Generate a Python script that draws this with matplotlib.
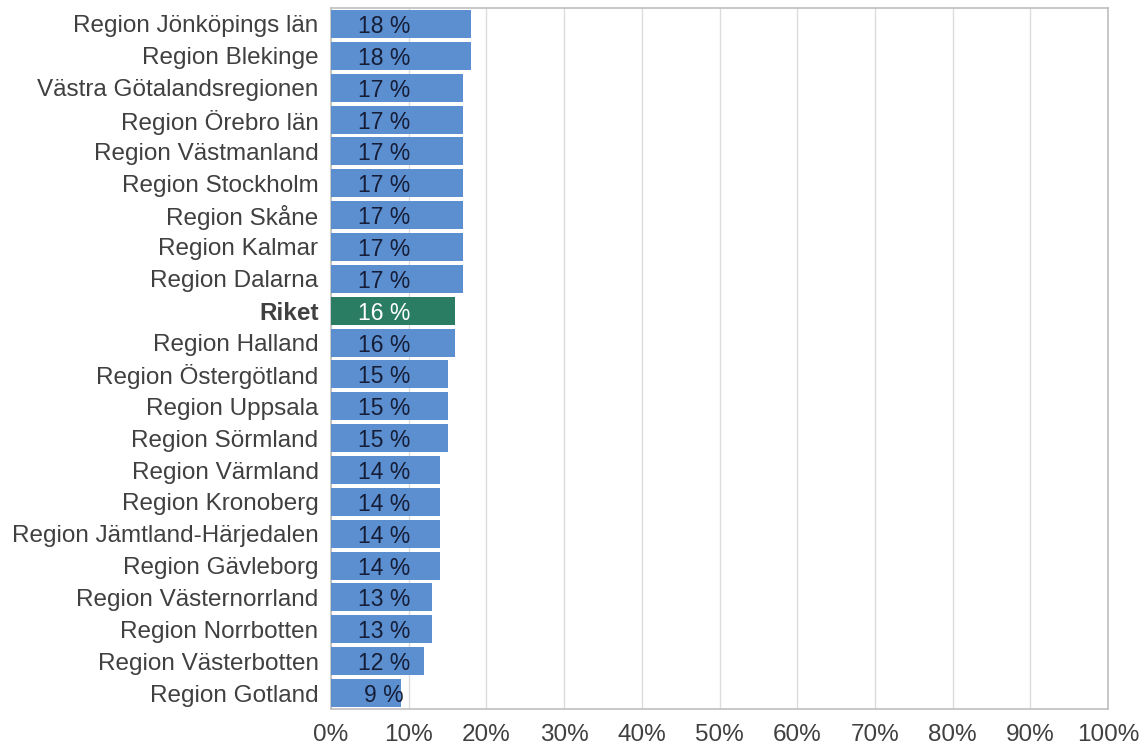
import matplotlib.pyplot as plt
from matplotlib.ticker import FuncFormatter

regions = [
    "Region Jönköpings län", "Region Blekinge", "Västra Götalandsregionen",
    "Region Örebro län", "Region Västmanland", "Region Stockholm",
    "Region Skåne", "Region Kalmar", "Region Dalarna", "Riket",
    "Region Halland", "Region Östergötland", "Region Uppsala",
    "Region Sörmland", "Region Värmland", "Region Kronoberg",
    "Region Jämtland-Härjedalen", "Region Gävleborg", "Region Västernorrland",
    "Region Norrbotten", "Region Västerbotten", "Region Gotland",
]
values = [18, 18, 17, 17, 17, 17, 17, 17, 17, 16, 16, 15, 15, 15, 14, 14, 14, 14, 13, 13, 12, 9]

plt.rcParams['font.family'] = ['Liberation Sans', 'DejaVu Sans']

blue = "#5b8fd0"
green = "#2a7d62"

fig = plt.figure(figsize=(11.44, 7.47), dpi=100)
ax = fig.add_axes([331 / 1144, 1 - 709 / 747, 777 / 1144, 701 / 747])

y = list(range(len(regions)))
colors = [green if r == "Riket" else blue for r in regions]
ax.barh(y, values, height=0.88, color=colors, zorder=3)

# procentetiketter i staplarna
for yi, v, r in zip(y, values, regions):
    tc = "white" if r == "Riket" else "#161d36"
    ax.text(6.8, yi, f"{v} %", ha="center", va="center_baseline", fontsize=16.5, color=tc, zorder=4)

ax.set_xlim(0, 100)
ax.set_ylim(len(regions) - 0.5, -0.5)
ax.set_xticks(range(0, 101, 10))
ax.xaxis.set_major_formatter(FuncFormatter(lambda x, p: f"{x:.0f}%"))
ax.set_yticks(y)
ax.set_yticklabels(regions)
for lbl in ax.get_yticklabels():
    if lbl.get_text() == "Riket":
        lbl.set_fontweight("bold")

ax.set_axisbelow(True)
ax.tick_params(axis='both', length=0, labelsize=17.5, colors="#404040")
ax.tick_params(axis='x', pad=11)
ax.tick_params(axis='y', pad=9)
ax.grid(axis='x', color="#dcdcdc", linewidth=1)
for s in ax.spines.values():
    s.set_color("#bfbfbf")
    s.set_linewidth(1.2)

fig.savefig("out.png", dpi=100)
